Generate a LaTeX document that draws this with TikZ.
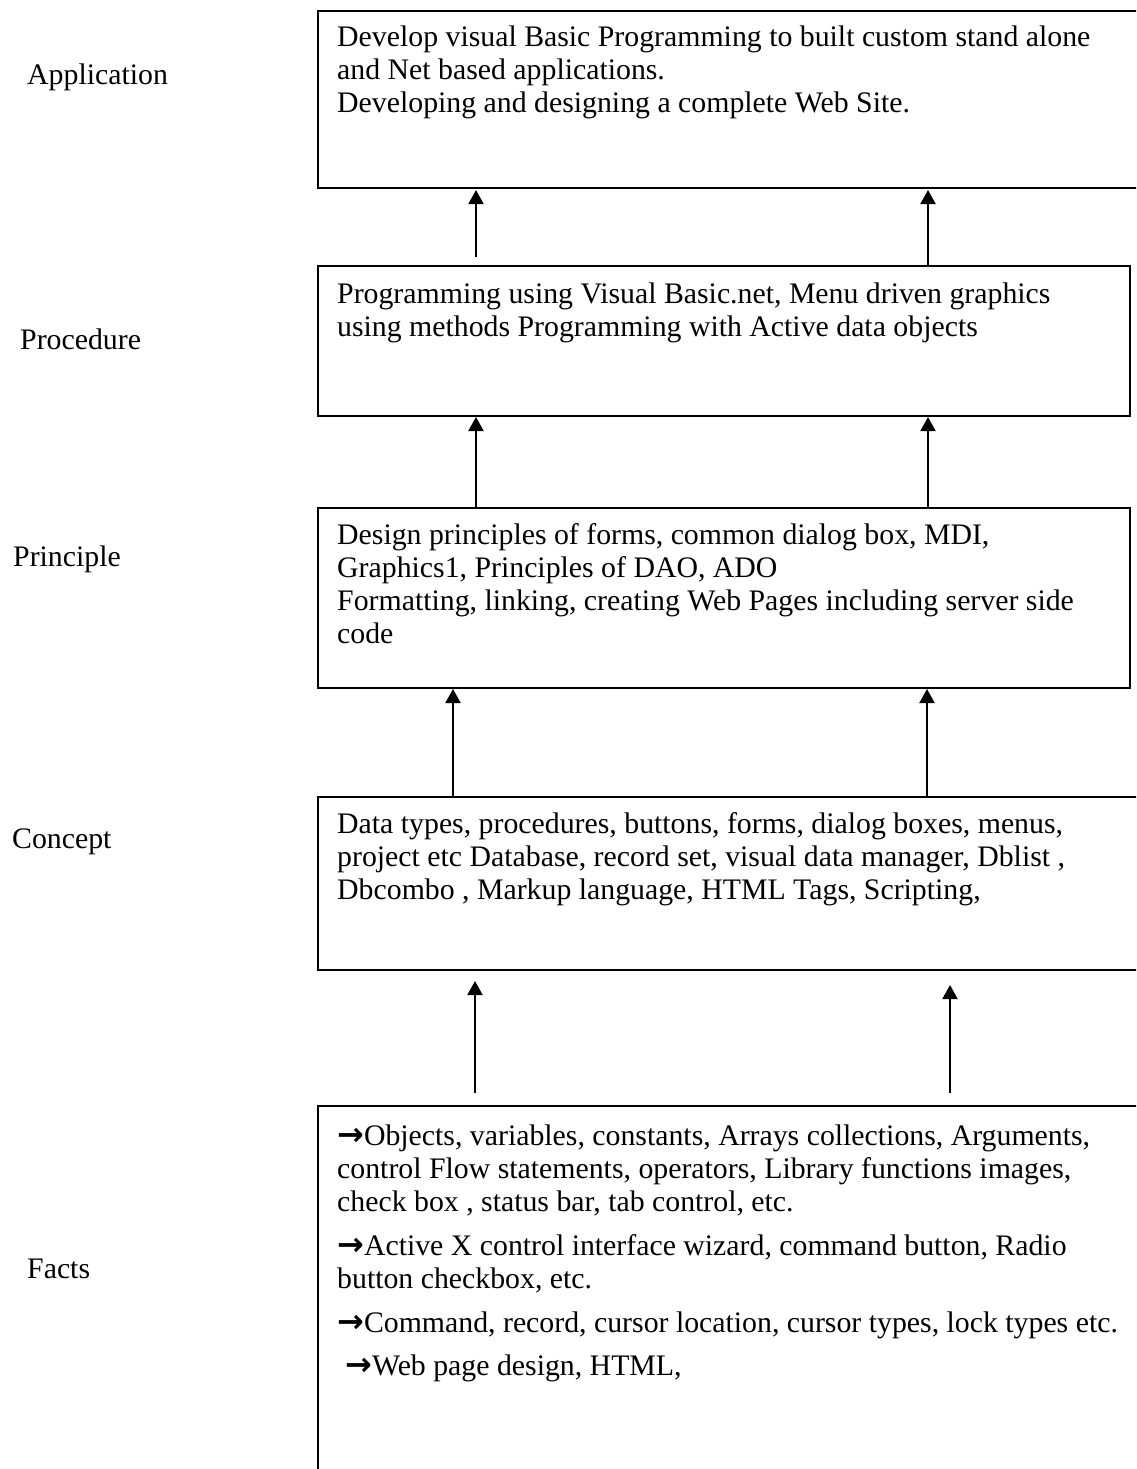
\documentclass[tikz,border=0pt]{standalone}
\usepackage{fontspec}
\setmainfont{Liberation Serif}
\newfontfamily\arrowfont{DejaVu Sans}
\newcommand{\rarr}{{\arrowfont\bfseries\fontsize{32pt}{33pt}\selectfont →}}
\usetikzlibrary{arrows.meta}
\begin{document}
\begin{tikzpicture}[x=1pt,y=-1pt,
  box/.style={draw=black,line width=2pt,inner sep=0pt,anchor=north west},
  txt/.style={anchor=north west,inner sep=0pt,align=left,font=\fontsize{29.8pt}{33pt}\selectfont},
  lbl/.style={anchor=base west,inner sep=0pt,font=\fontsize{29.8pt}{33pt}\selectfont},
  arr/.style={line width=2pt,-{Triangle[length=14pt,width=15pt]}}]
\useasboundingbox (0,0) rectangle (1136,1469);
\clip (0,0) rectangle (1136,1469);
% boxes
\node[box,minimum width=828pt,minimum height=177pt] (app) at (317,10) {};
\node[box,minimum width=812pt,minimum height=150pt] (proc) at (317,265) {};
\node[box,minimum width=812pt,minimum height=180pt] (prin) at (317,507) {};
\node[box,minimum width=828pt,minimum height=173pt] (conc) at (317,796) {};
\node[box,minimum width=828pt,minimum height=385pt] (facts) at (317,1105) {};
% box texts
\node[txt] (apptext) at (337,25.6) {Develop visual Basic Programming to built custom stand alone\\
and Net based applications.\\
Developing and designing a complete Web Site.};
\node[txt] (proctext) at (337,282.6) {Programming using Visual Basic.net, Menu driven graphics\\
using methods Programming with Active data objects};
\node[txt] (printext) at (337,523.6) {Design principles of forms, common dialog box, MDI,\\
Graphics1, Principles of DAO, ADO\\
Formatting, linking, creating Web Pages including server side\\
code};
\node[txt] (conctext) at (337,812.6) {Data types, procedures, buttons, forms, dialog boxes, menus,\\
project etc Database, record set, visual data manager, Dblist ,\\
Dbcombo , Markup language, HTML Tags, Scripting,};
\node[txt] (factstext) at (337,1124.6) {\rarr Objects, variables, constants, Arrays collections, Arguments,\\
control Flow statements, operators, Library functions images,\\
check box , status bar, tab control, etc.\\[11pt]
\rarr Active X control interface wizard, command button, Radio\\
button checkbox, etc.\\[11pt]
\rarr Command, record, cursor location, cursor types, lock types etc.\\[10pt]
\hspace*{8pt}\rarr Web page design, HTML,};
% labels
\node[lbl] (lapp) at (27,85) {Application};
\node[lbl] (lproc) at (20,349) {Procedure};
\node[lbl] (lprin) at (13,566) {Principle};
\node[lbl] (lconc) at (12,848) {Concept};
\node[lbl] (lfacts) at (27,1278) {Facts};
% arrow coordinates
\coordinate (b1) at (476,257); \coordinate (t1) at (476,190);
\coordinate (b2) at (928,265); \coordinate (t2) at (928,190);
\coordinate (b3) at (476,507); \coordinate (t3) at (476,417);
\coordinate (b4) at (928,507); \coordinate (t4) at (928,417);
\coordinate (b5) at (453,796); \coordinate (t5) at (453,689);
\coordinate (b6) at (927,796); \coordinate (t6) at (927,689);
\coordinate (b7) at (475,1093); \coordinate (t7) at (475,981);
\coordinate (b8) at (950,1093); \coordinate (t8) at (950,985);
\draw[arr] (b1) -- (t1);
\draw[arr] (b2) -- (t2);
\draw[arr] (b3) -- (t3);
\draw[arr] (b4) -- (t4);
\draw[arr] (b5) -- (t5);
\draw[arr] (b6) -- (t6);
\draw[arr] (b7) -- (t7);
\draw[arr] (b8) -- (t8);
\end{tikzpicture}
\end{document}
